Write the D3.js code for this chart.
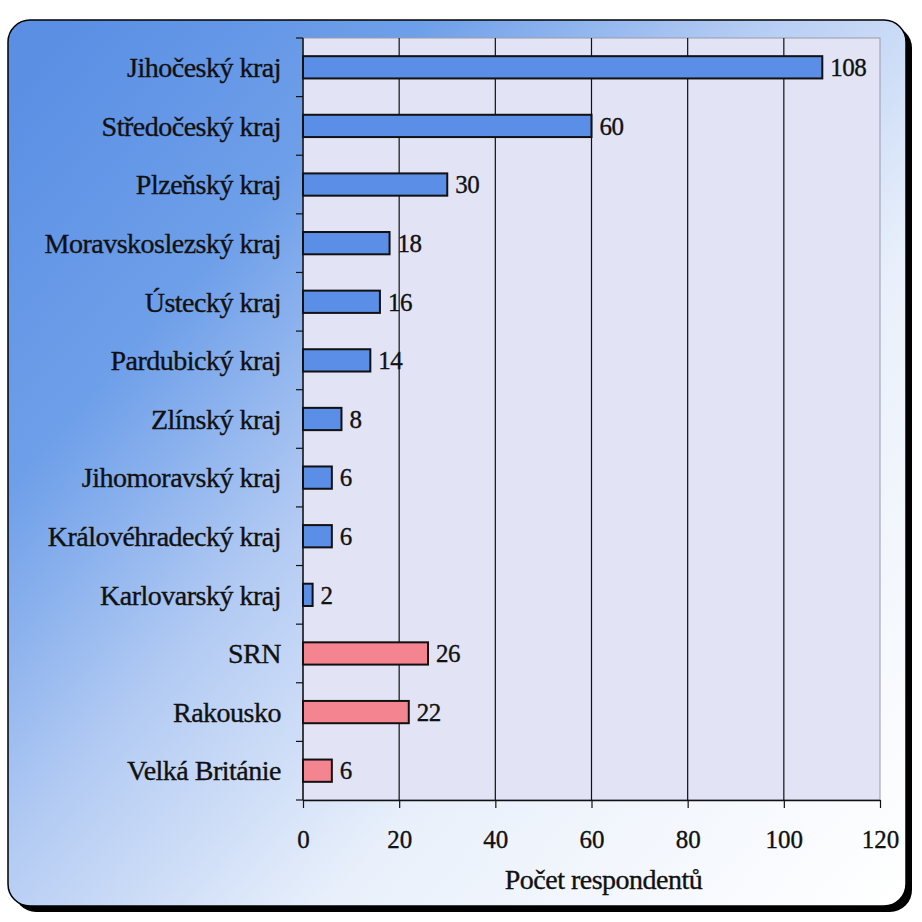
<!DOCTYPE html>
<html><head><meta charset="utf-8">
<script src="https://cdn.jsdelivr.net/npm/d3@7"></script>
<style>
html,body{margin:0;padding:0;background:#fff;}
svg{display:block;}
text{font-family:"Liberation Serif","Times New Roman",serif;fill:#111;stroke:#111;stroke-width:0.35px;}
</style></head>
<body>
<svg id="chart" width="922" height="922"></svg>
<script>
const categories = ["Jihočeský kraj","Středočeský kraj","Plzeňský kraj","Moravskoslezský kraj","Ústecký kraj","Pardubický kraj","Zlínský kraj","Jihomoravský kraj","Královéhradecký kraj","Karlovarský kraj","SRN","Rakousko","Velká Británie"];
const values = [108,60,30,18,16,14,8,6,6,2,26,22,6];
const groups = ["CZ","CZ","CZ","CZ","CZ","CZ","CZ","CZ","CZ","CZ","ABROAD","ABROAD","ABROAD"];
const xTicks = [0,20,40,60,80,100,120];
const xTitle = "Počet respondentů";

const svg = d3.select("#chart");
const frame = {x:8, y:20, w:898, h:886, r:22};
const plot = {l:303, r:880, t:38, b:800};

const defs = svg.append("defs");
const grad = defs.append("linearGradient").attr("id","bg")
  .attr("gradientUnits","userSpaceOnUse")
  .attr("x1",0).attr("y1",100).attr("x2",900).attr("y2",900);
[[0,"#5a8fe4"],[0.22,"#6e9fe9"],[0.42,"#b3cbf3"],[0.65,"#e9f0fb"],[1,"#ffffff"]]
  .forEach(([o,c])=>grad.append("stop").attr("offset",o).attr("stop-color",c));

// shadow
svg.append("rect").attr("x",frame.x+6).attr("y",frame.y+6)
  .attr("width",frame.w).attr("height",frame.h).attr("rx",frame.r)
  .attr("fill","#000");
// frame
svg.append("rect").attr("x",frame.x).attr("y",frame.y)
  .attr("width",frame.w).attr("height",frame.h).attr("rx",frame.r)
  .attr("fill","url(#bg)").attr("stroke","#000").attr("stroke-width",1.5);

const x = d3.scaleLinear().domain([0,120]).range([plot.l, plot.r]);
const y = d3.scaleBand().domain(categories).range([plot.t, plot.b]).padding(0);
const barH = y.bandwidth()*0.38;
const color = d3.scaleOrdinal().domain(["CZ","ABROAD"]).range(["#5b8ee6","#f4848f"]);

// plot area
svg.append("rect").attr("x",plot.l).attr("y",plot.t)
  .attr("width",plot.r-plot.l).attr("height",plot.b-plot.t)
  .attr("fill","#e2e3f5").attr("stroke","#9a9aae").attr("stroke-width",1);

// grid lines
svg.append("g").selectAll("line").data(xTicks.filter(d=>d>0 && d<120)).join("line")
  .attr("x1",d=>x(d)).attr("x2",d=>x(d)).attr("y1",plot.t).attr("y2",plot.b)
  .attr("stroke","#111").attr("stroke-width",1.2);

// x axis
const xAxis = d3.axisBottom(x).tickValues(xTicks).tickSize(8).tickPadding(22).tickSizeOuter(0);
const gx = svg.append("g").attr("transform",`translate(0,${plot.b})`).call(xAxis);
gx.attr("font-family",null).attr("font-size",null);
gx.select(".domain").attr("stroke","#111").attr("stroke-width",1.5);
gx.selectAll(".tick line").attr("stroke","#111").attr("stroke-width",1.2);
gx.selectAll("text").style("font-size","25px").attr("fill","#111")
  .style("font-family","'Liberation Serif',serif");

// y axis: ticks at category boundaries
const boundaries = categories.map(c=>y(c)).concat([plot.b]);
const gy = svg.append("g");
gy.append("line").attr("x1",plot.l).attr("x2",plot.l).attr("y1",plot.t).attr("y2",plot.b)
  .attr("stroke","#111").attr("stroke-width",1.5);
gy.selectAll("line.tk").data(boundaries).join("line").attr("class","tk")
  .attr("x1",plot.l-7).attr("x2",plot.l).attr("y1",d=>d).attr("y2",d=>d)
  .attr("stroke","#111").attr("stroke-width",1.2);
gy.selectAll("text").data(categories).join("text")
  .attr("x",plot.l-22).attr("y",d=>y(d)+y.bandwidth()/2).attr("dy","0.35em")
  .attr("text-anchor","end").style("font-size","28px").style("letter-spacing","-0.5px")
  .text(d=>d);

// bars
const data = categories.map((c,i)=>({c, v:values[i], g:groups[i]}));
svg.append("g").selectAll("rect").data(data).join("rect")
  .attr("x",x(0)).attr("y",d=>y(d.c)+y.bandwidth()/2-barH/2)
  .attr("width",d=>x(d.v)-x(0)).attr("height",barH)
  .attr("fill",d=>color(d.g)).attr("stroke","#111").attr("stroke-width",2);

// value labels
svg.append("g").selectAll("text").data(data).join("text")
  .attr("x",d=>x(d.v)+8).attr("y",d=>y(d.c)+y.bandwidth()/2).attr("dy","0.35em")
  .style("font-size","25px").style("letter-spacing","-0.5px").text(d=>d.v);

// axis title
svg.append("text").attr("x",(plot.l+plot.r)/2+12).attr("y",889)
  .attr("text-anchor","middle").style("font-size","28px").style("letter-spacing","-0.5px")
  .text(xTitle);
</script>
</body></html>
